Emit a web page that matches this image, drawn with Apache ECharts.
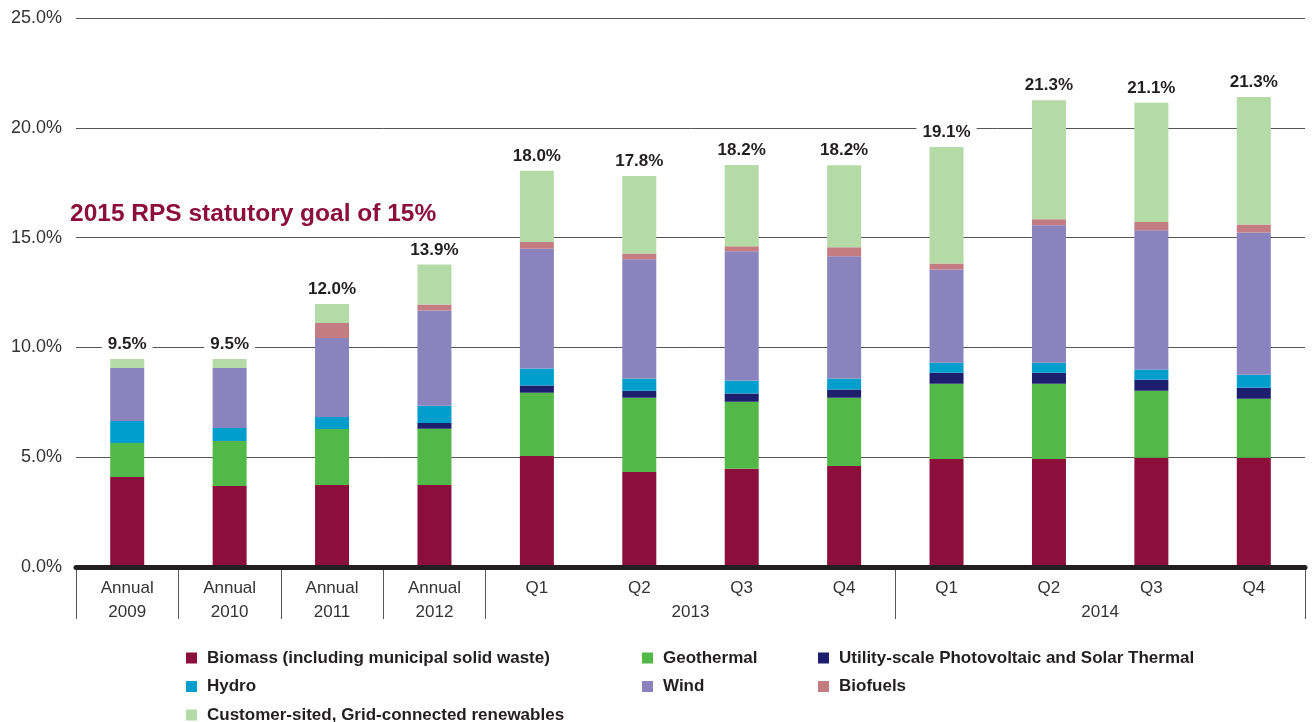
<!DOCTYPE html>
<html>
<head>
<meta charset="utf-8">
<script src="https://cdn.jsdelivr.net/npm/echarts@6/dist/echarts.min.js"></script>
<style>
  html, body { margin: 0; padding: 0; background: #fff; }
  #chart { width: 1312px; height: 722px; }
</style>
</head>
<body>
<div id="chart"></div>
<script>
// categories + labels
const categories = ['Annual\n2009', 'Annual\n2010', 'Annual\n2011', 'Annual\n2012', 'Q1', 'Q2', 'Q3', 'Q4', 'Q1', 'Q2', 'Q3', 'Q4'];
const yearGroups = ['2013', '2014'];
const groupBounds = [0, 1, 2, 3, 4, 8, 12];
const groupCenters = [6, 10];
const totalLabels = ['9.5%', '9.5%', '12.0%', '13.9%', '18.0%', '17.8%', '18.2%', '18.2%', '19.1%', '21.3%', '21.1%', '21.3%'];

// values (% of retail sales)
const biomass = [4.10, 3.69, 3.73, 3.73, 5.06, 4.33, 4.47, 4.60, 4.92, 4.92, 4.97, 4.97];
const geothermal = [1.55, 2.05, 2.55, 2.56, 2.88, 3.38, 3.06, 3.11, 3.42, 3.42, 3.06, 2.69];
const solar = [0, 0, 0, 0.27, 0.32, 0.32, 0.37, 0.37, 0.50, 0.50, 0.50, 0.50];
const hydro = [1.00, 0.59, 0.55, 0.78, 0.78, 0.55, 0.59, 0.50, 0.46, 0.46, 0.46, 0.59];
const wind = [2.41, 2.73, 3.60, 4.34, 5.45, 5.43, 5.89, 5.57, 4.25, 6.26, 6.35, 6.48];
const biofuels = [0, 0, 0.68, 0.27, 0.31, 0.27, 0.23, 0.41, 0.27, 0.27, 0.37, 0.37];
const customer = [0.41, 0.41, 0.87, 1.83, 3.24, 3.52, 3.70, 3.74, 5.30, 5.43, 5.43, 5.80];

const names = {
    biomass: 'Biomass (including municipal solid waste)',
    geothermal: 'Geothermal',
    solar: 'Utility-scale Photovoltaic and Solar Thermal',
    hydro: 'Hydro',
    wind: 'Wind',
    biofuels: 'Biofuels',
    customer: 'Customer-sited, Grid-connected renewables'
};

const font = '"Liberation Sans", Arial, Helvetica, sans-serif';
const chart = echarts.init(document.getElementById('chart'));

function bar(name, data, color) {
    return {
        name: name,
        type: 'bar',
        stack: 'total',
        barWidth: 34,
        data: data,
        itemStyle: { color: color },
        emphasis: { disabled: true }
    };
}

const legendBase = {
    orient: 'vertical',
    top: 648,
    height: 90,
    padding: 0,
    icon: 'rect',
    itemWidth: 11,
    itemHeight: 11,
    itemGap: 8.5,
    selectedMode: false,
    textStyle: { fontFamily: font, fontSize: 17, fontWeight: 'bold', lineHeight: 20, color: '#231f20', padding: [0, 0, 0, 5] }
};

const customerSeries = bar(names.customer, customer, '#b4dba6');
customerSeries.label = {
    show: true,
    position: 'top',
    distance: 5,
    formatter: p => totalLabels[p.dataIndex],
    fontFamily: font,
    fontSize: 17,
    fontWeight: 'bold',
    color: '#231f20',
    backgroundColor: '#fff',
    padding: [1, 6, 1, 6]
};

const option = {
    animation: false,
    backgroundColor: '#fff',
    title: {
        text: '2015 RPS statutory goal of 15%',
        left: 70,
        top: 202,
        padding: 0,
        textStyle: { fontFamily: font, fontSize: 24.5, fontWeight: 'bold', color: '#8c0f3b' }
    },
    grid: { left: 76, right: 7, top: 18, bottom: 155 },
    legend: [
        Object.assign({}, legendBase, { left: 186, data: [names.biomass, names.hydro, names.customer] }),
        Object.assign({}, legendBase, { left: 642, data: [names.geothermal, names.wind] }),
        Object.assign({}, legendBase, { left: 818, data: [names.solar, names.biofuels] })
    ],
    xAxis: [
        {
            type: 'category',
            data: categories,
            z: 5,
            axisLine: { lineStyle: { color: '#231f20', width: 5 } },
            axisTick: { show: false },
            axisLabel: {
                margin: 9,
                fontFamily: font,
                fontSize: 17,
                lineHeight: 24,
                color: '#333'
            }
        },
        {
            type: 'value',
            min: 0,
            max: 12,
            position: 'bottom',
            axisLine: { show: false },
            splitLine: { show: false },
            axisTick: {
                show: true,
                customValues: groupBounds,
                length: 52,
                lineStyle: { color: '#555', width: 1 }
            },
            axisLabel: {
                customValues: groupCenters,
                formatter: v => yearGroups[groupCenters.indexOf(v)],
                margin: 33,
                fontFamily: font,
                fontSize: 17,
                lineHeight: 24,
                color: '#333'
            }
        }
    ],
    yAxis: {
        type: 'value',
        min: 0,
        max: 25,
        interval: 5,
        axisLine: { show: false },
        axisTick: { show: false },
        axisLabel: {
            margin: 14,
            formatter: v => v.toFixed(1) + '%',
            fontFamily: font,
            fontSize: 18,
            color: '#333'
        },
        splitLine: { lineStyle: { color: '#555', width: 1 } }
    },
    series: [
        bar(names.biomass, biomass, '#8c0f3b'),
        bar(names.geothermal, geothermal, '#52b848'),
        bar(names.solar, solar, '#1b1f6e'),
        bar(names.hydro, hydro, '#009ecc'),
        bar(names.wind, wind, '#8a83bd'),
        bar(names.biofuels, biofuels, '#c47c83'),
        customerSeries
    ]
};

chart.setOption(option);
</script>
</body>
</html>
